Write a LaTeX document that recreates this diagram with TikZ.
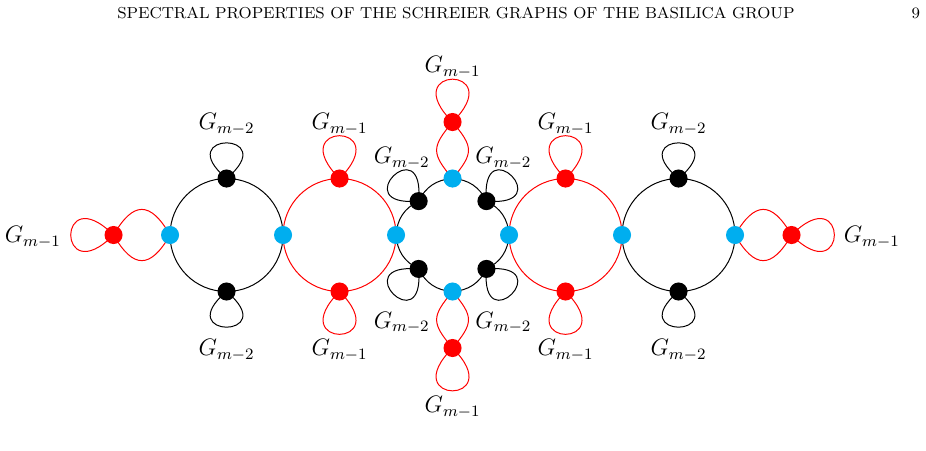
\documentclass[tikz,border=0pt]{standalone}
\usetikzlibrary{calc}
\definecolor{dotcyan}{RGB}{0,174,239}
\definecolor{dotred}{RGB}{255,0,0}
\pgfdeclarelayer{edges}
\pgfsetlayers{edges,main}

\begin{document}
\begin{tikzpicture}[
    x=1cm,
    y=1cm,
    line cap=round,
    line join=round,
    vtx/.style={
      circle,
      inner sep=0pt,
      minimum size=0.32cm
    },
    cyanvtx/.style={vtx, fill=dotcyan},
    redvtx/.style={vtx, fill=dotred},
    blackvtx/.style={vtx, fill=black},
    blackedge/.style={draw=black, line width=0.5pt},
    rededge/.style={draw=dotred, line width=0.5pt},
    redloop/.style={rededge, min distance=1.43cm},
    blackloop/.style={blackedge, min distance=1.31cm},
    glabel/.style={font=\large}
]
\useasboundingbox (-8.01,-3.82) rectangle (8.38,4.16);

% Running head of the page.
\node[font=\footnotesize] (head) at (0.06,3.93)
  {SPECTRAL PROPERTIES OF THE SCHREIER GRAPHS OF THE BASILICA GROUP};
\node[font=\footnotesize] (page) at (8.2,3.93) {9};

% Vertices: cyan junctions, red and black cut points.
\foreach \name/\x/\y in {c1/-5/0, c2/-3/0, c3/-1/0, c4/1/0, c5/3/0,
                         c6/5/0, ct/0/1, cb/0/-1} {
  \node[cyanvtx] (\name) at (\x,\y) {};
}
\foreach \name/\x/\y in {rl/-6/0, rr/6/0, r2t/-2/1, r2b/-2/-1,
                         r4t/2/1, r4b/2/-1, rt/0/2, rb/0/-2} {
  \node[redvtx] (\name) at (\x,\y) {};
}
\foreach \name/\x/\y in {k1t/-4/1, k1b/-4/-1, k5t/4/1, k5b/4/-1,
                         ktl/-0.6/0.6, ktr/0.6/0.6,
                         kbl/-0.6/-0.6, kbr/0.6/-0.6} {
  \node[blackvtx] (\name) at (\x,\y) {};
}

\begin{pgfonlayer}{edges}
% Outer black and red cycles, drawn as quarter arcs.
\foreach \a/\b/\c/\d in {c1/k1t/c2/k1b, c5/k5t/c6/k5b} {
  \draw[blackedge] (\a.center) to[bend left=45] (\b.center)
    to[bend left=45] (\c.center) to[bend left=45] (\d.center)
    to[bend left=45] (\a.center);
}
\foreach \a/\b/\c/\d in {c2/r2t/c3/r2b, c4/r4t/c5/r4b} {
  \draw[rededge] (\a.center) to[bend left=45] (\b.center)
    to[bend left=45] (\c.center) to[bend left=45] (\d.center)
    to[bend left=45] (\a.center);
}

% Central cycle of length eight.
\draw[blackedge] (c3.center) to[bend left=30] (ktl.center)
  to[bend left=30] (ct.center) to[bend left=30] (ktr.center)
  to[bend left=30] (c4.center) to[bend left=30] (kbr.center)
  to[bend left=30] (cb.center) to[bend left=30] (kbl.center)
  to[bend left=30] (c3.center);

% Double edges to the red end vertices.
\draw[rededge] (rl.center) to[out=60,in=120,looseness=1.79] (c1.center);
\draw[rededge] (rl.center) to[out=-60,in=-120,looseness=1.79] (c1.center);
\draw[rededge] (c6.center) to[out=60,in=120,looseness=1.79] (rr.center);
\draw[rededge] (c6.center) to[out=-60,in=-120,looseness=1.79] (rr.center);
\draw[rededge] (ct.center) to[out=130,in=230,looseness=1.5] (rt.center);
\draw[rededge] (ct.center) to[out=50,in=-50,looseness=1.5] (rt.center);
\draw[rededge] (cb.center) to[out=230,in=130,looseness=1.5] (rb.center);
\draw[rededge] (cb.center) to[out=-50,in=50,looseness=1.5] (rb.center);

% Loops.
\draw[redloop] (rl.center) to[out=225,in=135] (rl.center);
\draw[redloop] (rr.center) to[out=45,in=-45] (rr.center);
\foreach \v in {r2t, r4t, rt} {
  \draw[redloop] (\v.center) to[out=135,in=45] (\v.center);
}
\foreach \v in {r2b, r4b, rb} {
  \draw[redloop] (\v.center) to[out=-135,in=-45] (\v.center);
}
\foreach \v in {k1t, k5t} {
  \draw[blackloop] (\v.center) to[out=140,in=40] (\v.center);
}
\foreach \v in {k1b, k5b} {
  \draw[blackloop] (\v.center) to[out=-140,in=-40] (\v.center);
}
\draw[blackloop] (ktl.center) to[out=185,in=85] (ktl.center);
\draw[blackloop] (ktr.center) to[out=95,in=-5] (ktr.center);
\draw[blackloop] (kbl.center) to[out=175,in=275] (kbl.center);
\draw[blackloop] (kbr.center) to[out=5,in=265] (kbr.center);
\end{pgfonlayer}

% Copies of the smaller graphs hanging at the loops.
\node[glabel] (lleft) at (-7.43,-0.04) {$G_{m-1}$};
\node[glabel] (lright) at (7.42,-0.04) {$G_{m-1}$};
\node[glabel] (ltop) at (0,2.97) {$G_{m-1}$};
\node[glabel] (lbot) at (0,-3.05) {$G_{m-1}$};
\foreach \name/\x/\lab in {a/-4/{m-2}, b/-2/{m-1}, c/2/{m-1}, d/4/{m-2}} {
  \node[glabel] (up\name) at (\x,1.96) {$G_{\lab}$};
  \node[glabel] (dn\name) at (\x,-2.04) {$G_{\lab}$};
}
\node[glabel] (ltl) at (-0.9,1.36) {$G_{m-2}$};
\node[glabel] (ltr) at (0.9,1.36) {$G_{m-2}$};
\node[glabel] (lbl) at (-0.9,-1.55) {$G_{m-2}$};
\node[glabel] (lbr) at (0.9,-1.55) {$G_{m-2}$};
\end{tikzpicture}
\end{document}
